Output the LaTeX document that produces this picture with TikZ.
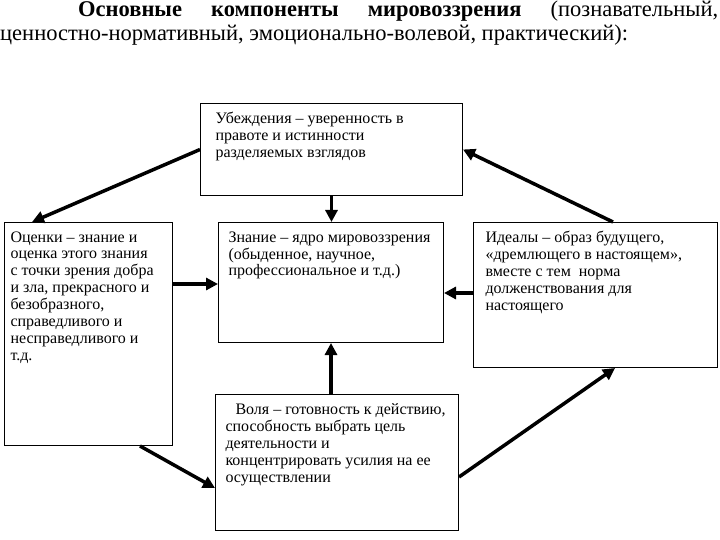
\documentclass[tikz,border=0pt]{standalone}
\usepackage{fontspec}
\setmainfont{Liberation Serif}
\usetikzlibrary{arrows.meta}
\newcommand{\boxtext}[3]{\parbox[c][#1][t]{#2}{\raggedright\vspace*{9pt}#3}}

\begin{document}
\begin{tikzpicture}[x=1pt,y=-1pt,
	comp/.style={draw,line width=1pt,anchor=north west,inner ysep=0pt,font=\fontsize{16}{16.9}\selectfont},
	link/.style={line width=3.5pt,-{Triangle[length=12pt,width=12pt]}}]
	\useasboundingbox (0,0) rectangle (720,540);
	\node[anchor=north west,inner sep=0pt,align=left,font=\fontsize{22.5}{24}\selectfont] (title) at (0,1)
		{\hbox to 718pt{\hspace*{78pt}\textbf{Основные}\hfill\textbf{компоненты}\hfill\textbf{мировоззрения}\hfill(познавательный,}\\
		ценностно-нормативный, эмоционально-волевой, практический):};
	\node[comp,inner xsep=15pt] (ub) at (200,103) {\boxtext{92pt}{232pt}{Убеждения – уверенность в\\правоте и истинности\\разделяемых взглядов}};
	\node[comp,inner xsep=6pt] (oc) at (4,222) {\boxtext{223pt}{156pt}{Оценки – знание и\\оценка этого знания\\с точки зрения добра\\и зла, прекрасного и\\безобразного,\\справедливого и\\несправедливого и\\т.д.}};
	\node[comp,inner xsep=10pt] (zn) at (218,222) {\boxtext{120pt}{205pt}{Знание – ядро мировоззрения\\(обыденное, научное,\\профессиональное и т.д.)}};
	\node[comp,inner xsep=12pt] (id) at (473,222) {\boxtext{145pt}{220pt}{Идеалы – образ будущего,\\«дремлющего в настоящем»,\\вместе с тем \ норма\\долженствования для\\настоящего}};
	\node[comp,inner xsep=10pt] (vo) at (215,394) {\boxtext{136pt}{223pt}{\hspace*{10pt}Воля – готовность к действию,\\способность выбрать цель\\деятельности и\\концентрировать усилия на ее\\осуществлении}};
	\draw[link] (ub.west) -- ([xshift=28pt]oc.north west);
	\draw[link] ([xshift=140pt]id.north west) -- (ub.east);
	\draw[link] (ub.south) -- (ub.south |- zn.north);
	\draw[link] ([yshift=50pt]oc.east) -- ([yshift=50pt]oc.east -| zn.west);
	\draw[link] ([yshift=2pt]id.west) -- ([yshift=2pt]id.west -| zn.east);
	\draw[link] (zn.south |- vo.north) -- (zn.south);
	\draw[link] ([xshift=136pt]oc.south west) -- ([yshift=-94pt]vo.north west);
	\draw[link] ([yshift=-83pt]vo.north east) -- ([xshift=142pt]id.south west);
\end{tikzpicture}
\end{document}
